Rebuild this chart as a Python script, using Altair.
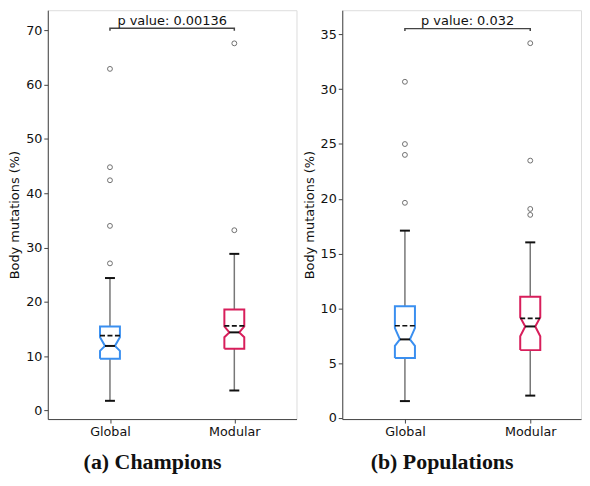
import altair as alt
import pandas as pd

categories = ["Global", "Modular"]
positions = [1, 2]
box_colors = ["#3a8ff0", "#d81e5b"]
panel_titles = ["(a) Champions", "(b) Populations"]
p_texts = ["p value: 0.00136", "p value: 0.032"]

# (a) Champions
champ_whislo = [1.8, 3.7]
champ_q1 = [9.55, 11.4]
champ_notch_lo = [11.0, 13.5]
champ_median = [11.9, 14.4]
champ_notch_hi = [13.5, 15.5]
champ_q3 = [15.5, 18.6]
champ_whishi = [24.4, 28.85]
champ_mean = [13.8, 15.6]
champ_outliers_global = [27.1, 34.0, 42.4, 44.8, 62.9]
champ_outliers_modular = [33.2, 67.6]
champ_bracket = [69.9, 70.4]   # leg bottom, bar level
champ_p_y = 71.05
champ_ydomain = [-1.56, 73.7]
champ_xdomain = [0.5, 2.5]
champ_yticks = [0, 10, 20, 30, 40, 50, 60, 70]

# (b) Populations
pop_whislo = [1.54, 2.04]
pop_q1 = [5.48, 6.19]
pop_notch_lo = [6.57, 7.46]
pop_median = [7.17, 8.35]
pop_notch_hi = [8.2, 9.18]
pop_q3 = [10.19, 11.05]
pop_whishi = [17.09, 16.02]
pop_mean = [8.41, 9.09]
pop_outliers_global = [19.63, 24.0, 24.99, 30.67]
pop_outliers_modular = [18.53, 19.07, 23.48, 34.19]
pop_bracket = [35.3, 35.52]
pop_p_y = 35.88
pop_ydomain = [-0.1, 37.2]
pop_xdomain = [0.5, 2.405]   # right edge cropped as in the reference
pop_yticks = [0, 5, 10, 15, 20, 25, 30, 35]

HALF_W = 0.08
CAP_W = 0.04
NOTCH_W = 0.04
PLOT_H = 411


def make_panel(whislo, q1, nlo, med, nhi, q3, whishi, mean, outl, bracket,
               p_y, ydomain, xdomain, yticks, title, ptext, width):
    box_rows, whisk_rows, cap_rows, med_rows, mean_rows, out_rows = [], [], [], [], [], []
    for i, cat in enumerate(categories):
        p = positions[i]
        verts = [
            (p - HALF_W, q1[i]), (p - HALF_W, nlo[i]), (p - NOTCH_W, med[i]),
            (p - HALF_W, nhi[i]), (p - HALF_W, q3[i]), (p + HALF_W, q3[i]),
            (p + HALF_W, nhi[i]), (p + NOTCH_W, med[i]), (p + HALF_W, nlo[i]),
            (p + HALF_W, q1[i]), (p - HALF_W, q1[i]),
        ]
        for k, (x, y) in enumerate(verts):
            box_rows.append({"cat": cat, "x": x, "y": y, "o": k})
        whisk_rows.append({"cat": cat, "x": p, "y": whislo[i], "y2": q1[i]})
        whisk_rows.append({"cat": cat, "x": p, "y": q3[i], "y2": whishi[i]})
        cap_rows.append({"x": p - CAP_W, "x2": p + CAP_W, "y": whislo[i]})
        cap_rows.append({"x": p - CAP_W, "x2": p + CAP_W, "y": whishi[i]})
        med_rows.append({"x": p - NOTCH_W, "x2": p + NOTCH_W, "y": med[i]})
        mean_rows.append({"x": p - HALF_W, "x2": p + HALF_W, "y": mean[i]})
        for v in outl[i]:
            out_rows.append({"x": p, "y": v})

    bracket_df = pd.DataFrame({
        "x": [positions[0], positions[0], positions[1], positions[1]],
        "y": [bracket[0], bracket[1], bracket[1], bracket[0]],
        "o": [0, 1, 2, 3],
    })
    text_df = pd.DataFrame({"x": [(positions[0] + positions[1]) / 2], "y": [p_y], "t": [ptext]})

    label_expr = f"datum.value == 1 ? '{categories[0]}' : '{categories[1]}'"
    xscale = alt.Scale(domain=xdomain, nice=False, zero=False)
    yscale = alt.Scale(domain=ydomain, nice=False, zero=False)
    xenc = alt.X("x:Q", scale=xscale,
                 axis=alt.Axis(values=positions, labelExpr=label_expr, title=None,
                               grid=False, tickSize=4, labelFontSize=12.8,
                               labelFont="DejaVu Sans", labelColor="#111",
                               domainColor="#444", tickColor="#444", labelPadding=3))
    yenc = alt.Y("y:Q", scale=yscale,
                 axis=alt.Axis(values=yticks, title="Body mutations (%)", grid=False,
                               tickSize=4, labelFontSize=12.8, labelFont="DejaVu Sans",
                               labelColor="#111", titleFont="DejaVu Sans",
                               titleFontSize=13, titleFontWeight="normal",
                               titleColor="#111", titlePadding=4,
                               domainColor="#444", tickColor="#444", labelPadding=2))

    base_x = alt.X("x:Q", scale=xscale)
    base_y = alt.Y("y:Q", scale=yscale)

    whiskers = alt.Chart(pd.DataFrame(whisk_rows)).mark_rule(
        color="#777", strokeWidth=1.5).encode(x=xenc, y=yenc, y2="y2:Q")
    caps = alt.Chart(pd.DataFrame(cap_rows)).mark_rule(
        color="#111", strokeWidth=2).encode(x=base_x, x2="x2:Q", y=base_y)
    boxes = alt.Chart(pd.DataFrame(box_rows)).mark_line(strokeWidth=2).encode(
        x=base_x, y=base_y, order="o:Q", detail="cat:N",
        color=alt.Color("cat:N", scale=alt.Scale(domain=categories, range=box_colors),
                        legend=None))
    medians = alt.Chart(pd.DataFrame(med_rows)).mark_rule(
        color="#111", strokeWidth=2).encode(x=base_x, x2="x2:Q", y=base_y)
    means = alt.Chart(pd.DataFrame(mean_rows)).mark_rule(
        color="#111", strokeWidth=1.6, strokeDash=[5, 2.5]).encode(x=base_x, x2="x2:Q", y=base_y)
    outliers = alt.Chart(pd.DataFrame(out_rows)).mark_point(
        shape="circle", filled=False, size=24, color="#333", strokeWidth=1).encode(
        x=base_x, y=base_y)
    brk = alt.Chart(bracket_df).mark_line(color="#444", strokeWidth=1.5).encode(
        x=base_x, y=base_y, order="o:Q")
    txt = alt.Chart(text_df).mark_text(
        font="DejaVu Sans", fontSize=13, color="#111", baseline="alphabetic", align="center"
    ).encode(x=base_x, y=base_y, text="t:N")

    return alt.layer(whiskers, caps, boxes, medians, means, outliers, brk, txt).properties(
        width=width, height=PLOT_H,
        title=alt.TitleParams(text=title, orient="bottom", anchor="middle", frame="bounds",
                              font="Liberation Serif", fontSize=22, fontWeight="bold",
                              color="#111", offset=13),
    )


left = make_panel(champ_whislo, champ_q1, champ_notch_lo, champ_median, champ_notch_hi,
                  champ_q3, champ_whishi, champ_mean,
                  [champ_outliers_global, champ_outliers_modular], champ_bracket,
                  champ_p_y, champ_ydomain, champ_xdomain, champ_yticks,
                  panel_titles[0], p_texts[0], 250)
right = make_panel(pop_whislo, pop_q1, pop_notch_lo, pop_median, pop_notch_hi,
                   pop_q3, pop_whishi, pop_mean,
                   [pop_outliers_global, pop_outliers_modular], pop_bracket,
                   pop_p_y, pop_ydomain, pop_xdomain, pop_yticks,
                   panel_titles[1], p_texts[1], 240)

chart = alt.hconcat(left, right, spacing=5).properties(
    padding={"left": 0, "top": 0, "right": 0, "bottom": 0}
).configure_view(stroke="#444", strokeWidth=1).configure(background="white")

chart.save("out.html", embed_options={"renderer": "svg", "actions": False})
